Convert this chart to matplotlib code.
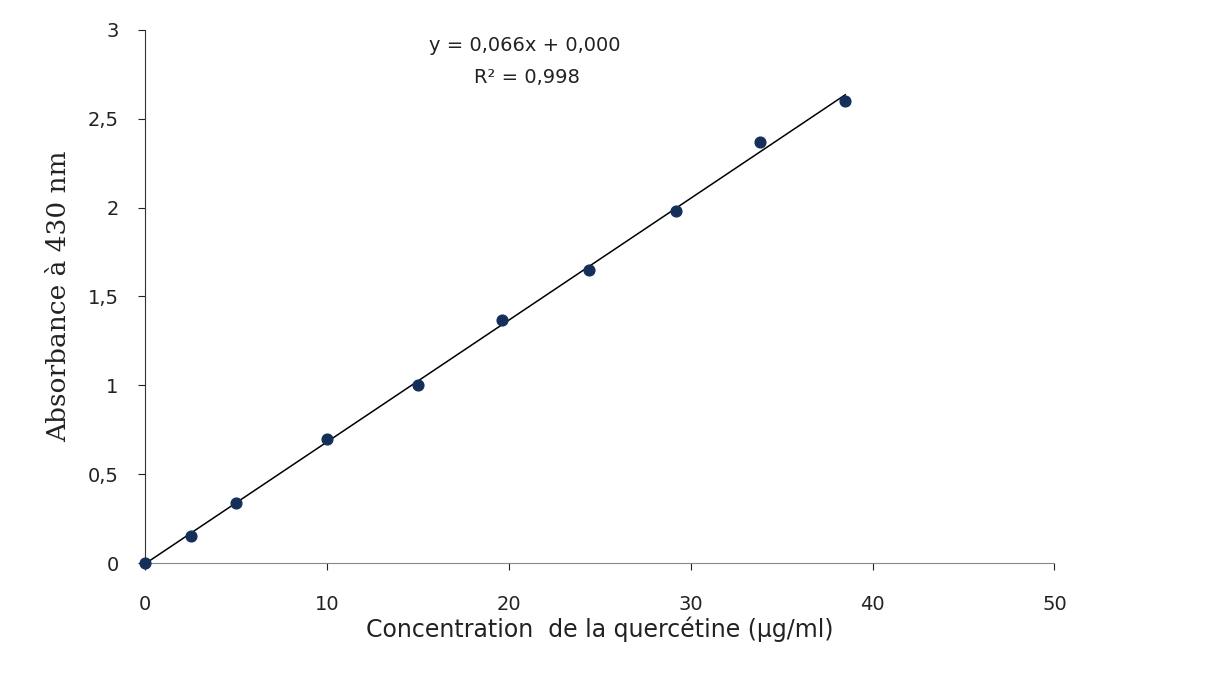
import matplotlib.pyplot as plt
import numpy as np
from matplotlib.ticker import FuncFormatter

# concentration (µg/ml) and absorbance
concentration = [0, 2.5, 5, 10, 15, 19.6, 24.4, 29.2, 33.8, 38.5]
absorbance = [0, 0.15, 0.34, 0.70, 1.00, 1.37, 1.65, 1.98, 2.37, 2.60]
x_ticks = [0, 10, 20, 30, 40, 50]
y_ticks = [0, 0.5, 1, 1.5, 2, 2.5, 3]

fig = plt.figure(figsize=(12.19, 6.8), dpi=100)
ax = fig.add_axes([0.119, 0.172, 0.746, 0.784])

# linear trend line
slope, intercept = np.polyfit(concentration, absorbance, 1)
xs = np.array([0, max(concentration)])
ax.plot(xs, slope * xs + intercept, color='black', lw=1.1, zorder=2)

ax.scatter(concentration, absorbance, s=60, color='#14305a', zorder=3,
           clip_on=False)

ax.set_xlim(0, 50)
ax.set_ylim(0, 3)
ax.set_xticks(x_ticks)
ax.set_yticks(y_ticks)
comma = FuncFormatter(lambda v, p: ('%g' % v).replace('.', ','))
ax.yaxis.set_major_formatter(comma)
ax.xaxis.set_major_formatter(comma)

for side in ['top', 'right']:
    ax.spines[side].set_visible(False)
ax.spines['left'].set_color('#333333')
ax.spines['bottom'].set_color('#888888')
ax.tick_params(axis='both', direction='out', length=5, labelsize=14,
               colors='#222222', pad=14)
ax.tick_params(axis='x', pad=18)

ax.set_xlabel('Concentration  de la quercétine (µg/ml)', fontsize=17,
              color='#222222', labelpad=2)
ax.set_ylabel('Absorbance à 430 nm', fontsize=19, family='DejaVu Serif',
              color='#222222', labelpad=12)

ax.text(20.9, 2.91, 'y = 0,066x + 0,000', fontsize=14, ha='center',
        va='center', color='#222222')
ax.text(21.0, 2.73, 'R² = 0,998', fontsize=14, ha='center',
        va='center', color='#222222')

fig.savefig('out.png', dpi=100)
